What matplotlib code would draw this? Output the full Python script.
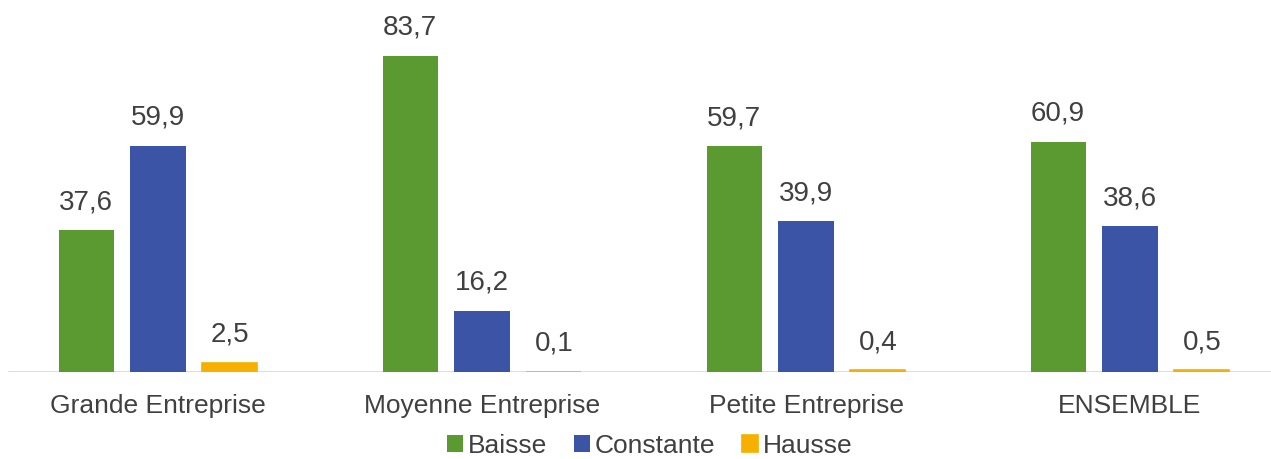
import matplotlib
matplotlib.use('Agg')
import matplotlib.pyplot as plt
import numpy as np

# data
categories = ["Grande Entreprise", "Moyenne Entreprise", "Petite Entreprise", "ENSEMBLE"]
series     = ["Baisse", "Constante", "Hausse"]
baisse     = [37.6, 83.7, 59.7, 60.9]
constante  = [59.9, 16.2, 39.9, 38.6]
hausse     = [2.5, 0.1, 0.4, 0.5]

# style
colors     = ["#5a9a30", "#3c54a5", "#f7b000"]
text_color = "#404040"
fontsize   = 19
val_size   = 20
bar_width  = 0.17
offset     = 0.222

plt.rcParams['font.family'] = ['Liberation Sans', 'DejaVu Sans']

fig = plt.figure(figsize=(12.71, 4.59), dpi=100)
ax = fig.add_axes([0.0, 87/459, 1.0, 372/459])

x = np.arange(len(categories))
for i, (name, vals, col) in enumerate(zip(series, [baisse, constante, hausse], colors)):
  pos = x + (i - 1)*offset
  # thin edge so the tiny "Hausse" bars still show as a line
  ax.bar(pos, vals, width=bar_width, color=col, label=name, zorder=3,
         edgecolor=col, linewidth=1.2 if i == 2 else 0)
  for xp, v in zip(pos, vals):
    ax.annotate(f"{v:.1f}".replace(".", ","), (xp, v), xytext=(0, 20),
                textcoords="offset points", ha="center", va="center",
                fontsize=val_size, color=text_color)

ax.set_xlim(-158/324, (1271-158)/324)
ax.set_ylim(0, 98.4)
ax.axhline(0, xmin=9/1271, xmax=1.0, color="#d9d9d9", lw=2, zorder=2)

for s in ax.spines.values():
  s.set_visible(False)
ax.set_yticks([])
ax.set_xticks(x)
ax.set_xticklabels(categories, fontsize=fontsize, color=text_color)
ax.tick_params(axis='x', length=0, pad=16)

leg = ax.legend(loc="center", bbox_to_anchor=(650/1271, -(446-372)/372),
                ncol=3, frameon=False, fontsize=fontsize, handlelength=0.6,
                handleheight=0.6, handletextpad=0.2, columnspacing=1.0,
                borderpad=0.1)
for t in leg.get_texts():
  t.set_color(text_color)

fig.savefig("out.png", dpi=100)
